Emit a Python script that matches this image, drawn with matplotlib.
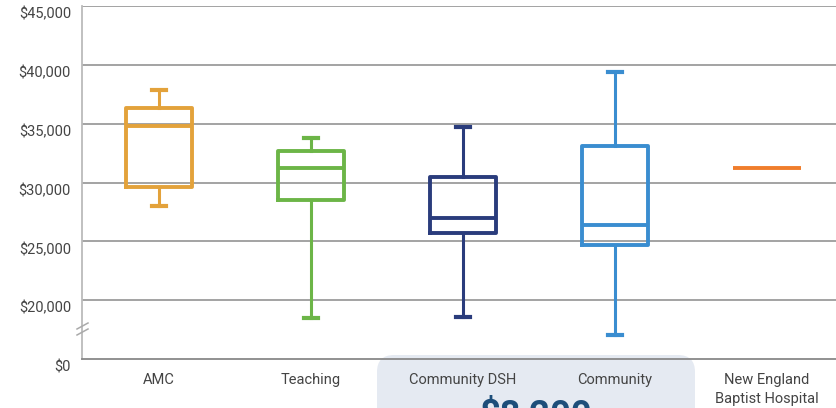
import matplotlib
matplotlib.use("Agg")
import matplotlib.pyplot as plt
import matplotlib.transforms as mtransforms
from matplotlib.patches import FancyBboxPatch
from matplotlib.lines import Line2D

categories = ["AMC", "Teaching", "Community DSH", "Community", "New England\nBaptist Hospital"]
whisker_low = [28000, 18500, 18600, 17000]
q1 = [29600, 28500, 25700, 24700]
median = [34800, 31200, 27000, 26400]
q3 = [36300, 32700, 30500, 33100]
whisker_high = [37900, 33800, 34700, 39400]
nebh_value = 31200
colors = ["#E3A23B", "#6CB547", "#2A3C7C", "#3A8DD0", "#F07D2C"]
y_ticks = [15000, 20000, 25000, 30000, 35000, 40000, 45000]
y_labels = ["$0", "$20,000", "$25,000", "$30,000", "$35,000", "$40,000", "$45,000"]
callout_text = "$8,200"

plt.rcParams['font.family'] = ['Roboto', 'DejaVu Sans']

W, H = 837, 408
fig = plt.figure(figsize=(W / 100, H / 100), dpi=100)
ax = fig.add_axes([82 / W, (H - 359) / H, (W - 82) / W, (359 - 6) / H])

ax.set_ylim(15000, 45000)
ax.set_xlim(-0.507, 4.46)

for t in y_ticks[1:]:
    ax.axhline(t, color="#8a8a8a", lw=1.1, zorder=1)

stats = []
for i in range(4):
    stats.append(dict(med=median[i], q1=q1[i], q3=q3[i], whislo=whisker_low[i], whishi=whisker_high[i], fliers=[]))

for i, s in enumerate(stats):
    c = colors[i]
    ax.bxp([s], positions=[i], widths=0.43, capwidths=0.09, showfliers=False,
           boxprops=dict(color=c, lw=2.8), medianprops=dict(color=c, lw=2.8),
           whiskerprops=dict(color=c, lw=2.2), capprops=dict(color=c, lw=3),
           zorder=3)

ax.hlines(nebh_value, 4 - 0.222, 4 + 0.222, color=colors[4], lw=2.8, zorder=3)

ax.set_yticks(y_ticks)
ax.set_yticklabels(y_labels, fontsize=10.5, color="#444444")
ax.set_xticks(range(5))
ax.set_xticklabels(categories, fontsize=10.5, color="#444444", linespacing=1.45)
ax.tick_params(axis="both", length=0)
ax.tick_params(axis="y", pad=8)
ax.tick_params(axis="x", pad=10)

offset = mtransforms.ScaledTranslation(0, -7 / 100, fig.dpi_scale_trans)
for lbl in ax.get_yticklabels():
    lbl.set_transform(lbl.get_transform() + offset)

for side in ["top", "right"]:
    ax.spines[side].set_visible(False)
ax.spines["left"].set_color("#bbbbbb")
ax.spines["left"].set_linewidth(1.3)
ax.spines["bottom"].set_color("#888888")
ax.spines["bottom"].set_linewidth(1.3)

def fx(px):
    return px / W
def fy(py):
    return (H - py) / H

# break marks on left axis
fig.add_artist(plt.Rectangle((fx(79), fy(333)), fx(7), (333 - 325) / H,
                             transform=fig.transFigure, color="white", zorder=5))
for off in (0, 6):
    fig.add_artist(Line2D([fx(77), fx(88)], [fy(335 - off), fy(329 - off)],
                          transform=fig.transFigure, color="#aaaaaa", lw=1.1, zorder=6))

# callout box (pixel coordinates)
box = FancyBboxPatch((377, H - 440), 695 - 377, 440 - 355,
                     boxstyle="round,pad=0,rounding_size=17",
                     transform=mtransforms.IdentityTransform(), facecolor="#E5EAF2",
                     edgecolor="none", zorder=4)
fig.add_artist(box)
fig.text(fx(536), fy(396), callout_text, ha="center", va="top", fontsize=26,
         fontweight="bold", color="#1D4E7A", zorder=7)

for lbl in ax.get_xticklabels():
    lbl.set_zorder(8)
ax.set_zorder(5)
ax.patch.set_alpha(0)

fig.savefig("out.png", dpi=100)
